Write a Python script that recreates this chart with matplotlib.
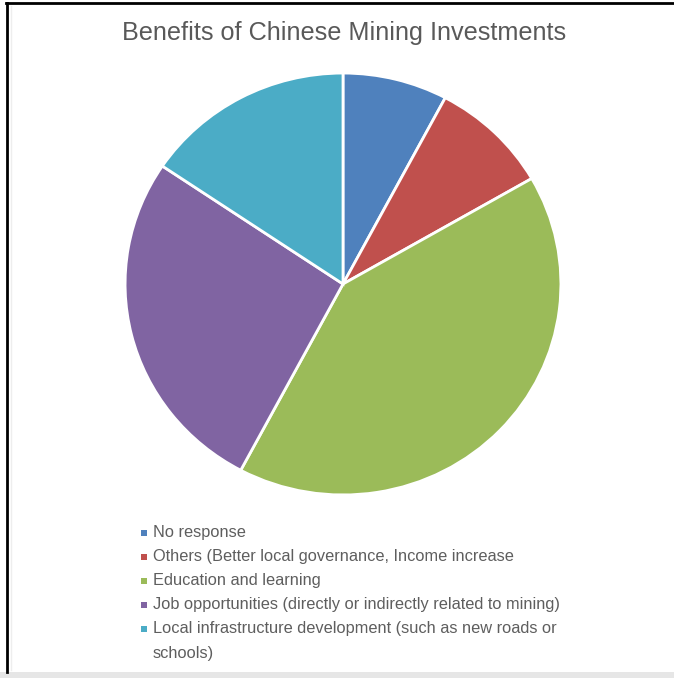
import matplotlib
matplotlib.use("Agg")
import matplotlib.pyplot as plt
from matplotlib.patches import Rectangle
from matplotlib.lines import Line2D
import textwrap

title = "Benefits of Chinese Mining Investments"
categories = [
    "No response",
    "Others (Better local governance, Income increase",
    "Education and learning",
    "Job opportunities (directly or indirectly related to mining)",
    "Local infrastructure development (such as new roads or schools)",
]
values = [7, 8, 37, 24, 14]
colors = ["#4F81BD", "#C0504D", "#9BBB59", "#8064A2", "#4BACC6"]

W, H = 674, 678
fig = plt.figure(figsize=(W / 100, H / 100), dpi=100)
fig.patch.set_facecolor("white")

def fx(px):
    return px / W

def fy(py):
    return 1 - py / H

# pie axes (slightly elliptical like the reference)
left, right, top, bottom = 124, 562, 72, 496
ax = fig.add_axes([fx(left), fy(bottom), (right - left) / W, (bottom - top) / H])
ax.pie(values, colors=colors, startangle=90, counterclock=False, radius=1,
       wedgeprops=dict(edgecolor="white", linewidth=2))
ax.set_aspect("auto")
ax.set_xlim(-1.005, 1.005)
ax.set_ylim(-1.005, 1.005)
ax.axis("off")

fam = "Liberation Sans"

# title
fig.text(fx(344), fy(33), title, ha="center", va="center", fontsize=18.2,
         color="#595959", family=fam)

# legend
rows_y = [532.7, 556.7, 580.7, 604.7, 628.5]
line_h = 24.6
for i, (lab, col) in enumerate(zip(categories, colors)):
    y = rows_y[i]
    fig.patches.append(Rectangle((fx(140.5), fy(y + 3)), 6 / W, 6 / H,
                                 transform=fig.transFigure, facecolor=col,
                                 edgecolor="none"))
    lines = textwrap.wrap(lab, 60)
    for j, ln in enumerate(lines):
        fig.text(fx(153), fy(y + j * line_h), ln, ha="left", va="center",
                 fontsize=11.75, color="#5e5e5e", family=fam)

# frame: black border top/left, light gray bottom band
fig.lines.append(Line2D([fx(6.5), fx(6.5)], [fy(3), fy(672)], transform=fig.transFigure,
                        color="black", linewidth=2))
fig.lines.append(Line2D([fx(6), fx(674)], [fy(3), fy(3)], transform=fig.transFigure,
                        color="black", linewidth=2))
fig.patches.append(Rectangle((0, 0), 1, 6 / H, transform=fig.transFigure,
                             facecolor="#e6e6e6", edgecolor="none"))
fig.lines.append(Line2D([fx(11), fx(11)], [fy(6), fy(670)], transform=fig.transFigure,
                        color="#eeeeee", linewidth=1))

fig.savefig("out.png", dpi=100, facecolor="white")
